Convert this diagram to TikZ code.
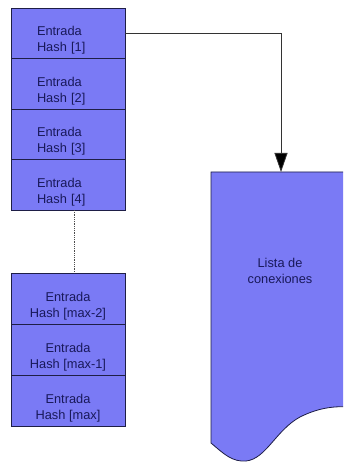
\documentclass[tikz,border=0pt]{standalone}
\usepackage{fontspec}
\setmainfont{Liberation Sans}
\usepackage{xcolor}
\usetikzlibrary{arrows.meta}
\usetikzlibrary{positioning}

\definecolor{relleno}{RGB}{122,122,245}
\definecolor{borde}{RGB}{30,30,70}
\definecolor{texto}{RGB}{25,25,90}
\newcommand{\alto}{\rule{0pt}{24pt}}

\begin{document}
\begin{tikzpicture}[x=1pt,y=-1pt,
  every node/.style={font=\fontsize{12.8}{16}\selectfont,text=texto},
  entrada/.style={rectangle,draw=borde,fill=relleno,line width=0.8pt,
    minimum width=114pt,minimum height=50.5pt,outer sep=0pt},
  arriba/.style={entrada,align=left,text width=62pt},
  abajo/.style={entrada,align=center,minimum height=51pt},
  enlace/.style={draw=black!80,line width=0.8pt,
    -{Triangle[length=19pt,width=13pt,fill=black]}}
]
\useasboundingbox (0,0) rectangle (343,462);
\clip (0,0) rectangle (343,462);
\node[arriba] (h1) at (68,33.25) {\alto Entrada\\Hash [1]};
\foreach \i [count=\j] in {2,3,4}
  \node[arriba,below=0pt of h\j] (h\i) {\alto Entrada\\Hash [\i]};
\node[abajo] (hm2) at (68,298.5) {\alto Entrada\\Hash [max-2]};
\node[abajo,below=0pt of hm2] (hm1) {\alto Entrada\\Hash [max-1]};
\node[abajo,below=0pt of hm1] (hm) {\alto Entrada\\Hash [max]};
\draw[black!70,densely dotted,line width=0.8pt]
  ([xshift=6pt]h4.south) -- ([xshift=6pt]hm2.north);
\draw[draw=borde,fill=relleno,line width=0.8pt] (352,172) -- (211,172) -- (211,443)
  .. controls (224,454) and (232,462) .. (246,461)
  .. controls (266,459) and (276,430) .. (300,417)
  .. controls (320,407) and (336,406) .. (352,407) -- cycle;
\coordinate (ltop) at (281,172);
\node[align=center] (lista) at (280,271) {Lista de\\conexiones};
\draw[enlace] (h1.east) -| (ltop);
\end{tikzpicture}
\end{document}
